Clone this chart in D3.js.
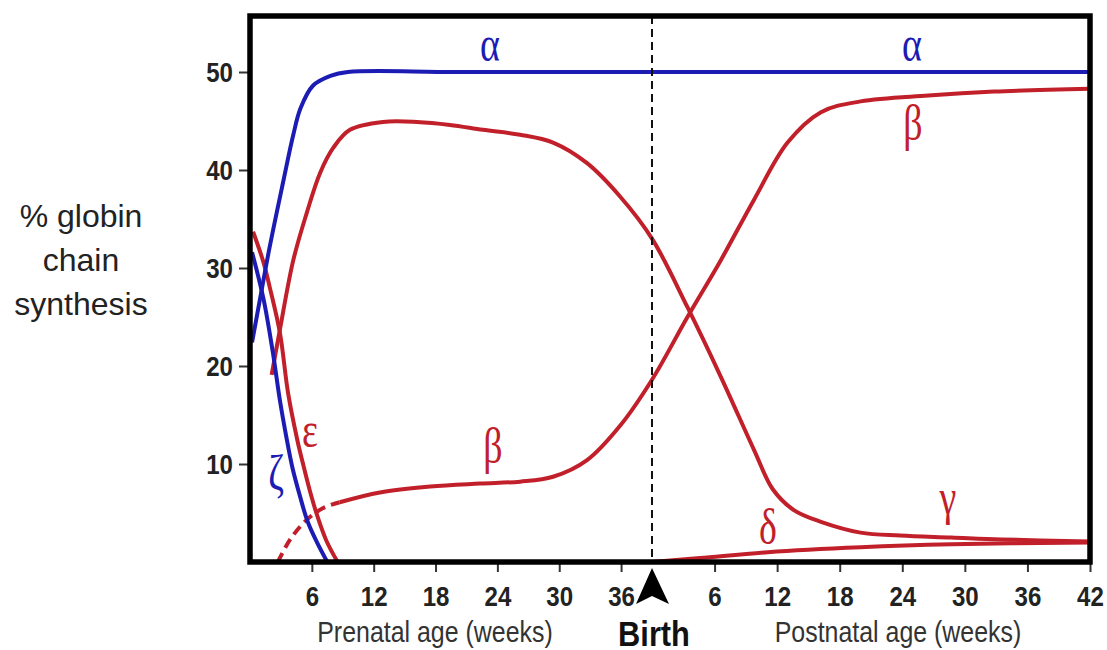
<!DOCTYPE html>
<html>
<head>
<meta charset="utf-8">
<script src="https://cdn.jsdelivr.net/npm/d3@7"></script>
<style>
  body { margin: 0; background: #fff; }
</style>
</head>
<body>
<svg id="chart" width="1107" height="650"></svg>
<script>
// age in weeks from conception; birth at week 39, postnatal weeks are added on top
var birthWeek = 39;
var endWeek = 81;

// alpha chain
var alphaAge = [0.2, 1.0, 1.9, 3.2, 4.2, 4.9, 6.1, 7.8, 9.5, 20, 39, 60, 81];
var alphaVal = [22.4, 27.0, 32.1, 38.7, 43.6, 46.3, 48.6, 49.6, 50, 50, 50, 50, 50];

// zeta chain
var zetaAge = [0.2, 1.3, 2.2, 2.9, 3.5, 4.1, 4.8, 5.6, 6.5, 7.5];
var zetaVal = [31.6, 26.9, 21.5, 16.5, 12.9, 9.7, 6.9, 4.1, 2.0, 0];

// epsilon chain
var epsAge = [0.3, 1.3, 1.9, 2.9, 3.7, 4.6, 5.1, 5.8, 6.5, 7.4, 8.5];
var epsVal = [33.7, 30.6, 28.1, 23.4, 17.2, 12.4, 10.2, 7.3, 4.8, 2.2, 0];

// gamma chain
var gammaAge = [2.1, 2.9, 4.2, 5.5, 6.8, 8.1, 9.7, 12.9, 16.2, 19.4, 22.6, 26.2, 29.4, 32.7,
                35.9, 39, 42.4, 45.6, 48.8, 50.6, 52.6, 55.2, 59.0, 62.8, 67.7, 72.5, 81];
var gammaVal = [19.1, 23.7, 30.8, 35.6, 39.7, 42.3, 44.1, 44.9, 44.9, 44.6, 44.1, 43.6, 42.8, 40.7,
                37.3, 33.0, 26.0, 18.9, 11.4, 7.4, 5.3, 4.1, 3.0, 2.7, 2.5, 2.3, 2.1];

// beta chain, early dashed part then solid
var betaEarlyAge = [2.7, 3.9, 5.5, 7.1, 8.7];
var betaEarlyVal = [0, 2.3, 4.3, 5.5, 6.1];
var betaAge = [8.7, 12.6, 17.5, 22.3, 26.2, 29.4, 32.7, 35.9, 39, 42.4, 45.6, 48.8, 52.0,
               55.2, 59.0, 65.5, 71.8, 81];
var betaVal = [6.1, 7.1, 7.7, 8.0, 8.2, 8.7, 10.4, 13.9, 18.6, 25.0, 30.8, 37.0, 42.8,
               45.9, 47.0, 47.6, 48.0, 48.3];

// delta chain
var deltaAge = [39, 43.6, 50.1, 59.0, 67.7, 81];
var deltaVal = [0, 0.4, 1.0, 1.5, 1.8, 2.0];

// ticks
var yTicks = [10, 20, 30, 40, 50];
var preTicks = [6, 12, 18, 24, 30, 36];
var postTicks = [6, 12, 18, 24, 30, 36, 42];

var blue = "#1c1cb4", red = "#c1202b";

var svg = d3.select("#chart");
var pLeft = 250, pRight = 1090, pTop = 16, pBottom = 562;

// x runs prenatal then postnatal with slightly different spacing
var x = d3.scaleLinear()
    .domain([0, birthWeek, endWeek])
    .range([pLeft, 652, pRight]);
var y = d3.scaleLinear().domain([0, 50]).range([pBottom, 72]);

var zip = function(a, b) { return a.map(function(d, i) { return [d, b[i]]; }); };

svg.append("clipPath").attr("id", "plot")
  .append("rect")
    .attr("x", pLeft).attr("y", pTop)
    .attr("width", pRight - pLeft).attr("height", pBottom - pTop);

var line = d3.line()
    .x(function(d) { return x(d[0]); })
    .y(function(d) { return y(d[1]); })
    .curve(d3.curveCatmullRom.alpha(0.5));

var series = [
  {data: zip(betaEarlyAge, betaEarlyVal), color: red, dash: "10,6"},
  {data: zip(betaAge, betaVal), color: red},
  {data: zip(deltaAge, deltaVal), color: red},
  {data: zip(gammaAge, gammaVal), color: red},
  {data: zip(epsAge, epsVal), color: red},
  {data: zip(zetaAge, zetaVal), color: blue},
  {data: zip(alphaAge, alphaVal), color: blue}
];

var plot = svg.append("g").attr("clip-path", "url(#plot)");

plot.selectAll("path.curve")
  .data(series)
  .enter().append("path")
    .attr("class", "curve")
    .attr("d", function(d) { return line(d.data); })
    .attr("fill", "none")
    .attr("stroke", function(d) { return d.color; })
    .attr("stroke-width", 4)
    .attr("stroke-dasharray", function(d) { return d.dash || null; });

// birth line
svg.append("line")
    .attr("x1", x(birthWeek)).attr("x2", x(birthWeek))
    .attr("y1", pTop).attr("y2", pBottom)
    .attr("stroke", "#111")
    .attr("stroke-width", 2)
    .attr("stroke-dasharray", "8,5");

// axes
var xAxis = svg.append("g")
    .attr("transform", "translate(0," + pBottom + ")")
    .call(d3.axisBottom(x)
      .tickValues(preTicks.concat(postTicks.map(function(d) { return d + birthWeek; })))
      .tickFormat(function(d) { return d > birthWeek ? d - birthWeek : d; })
      .tickSize(10)
      .tickPadding(14));

var yAxis = svg.append("g")
    .attr("transform", "translate(" + pLeft + ",0)")
    .call(d3.axisLeft(y).tickValues(yTicks).tickSize(11).tickPadding(5));

// narrow the tick digits a little, the fonts here have no narrow cut
var squeeze = 0.86;
[xAxis, yAxis].forEach(function(g) {
  g.select(".domain").remove();
  g.selectAll(".tick line").attr("stroke", "#333").attr("stroke-width", 2);
  g.selectAll(".tick text")
    .attr("fill", "#222")
    .style("font-family", "'Liberation Sans', Arial, sans-serif")
    .style("font-weight", "bold")
    .style("font-size", "28px");
});
xAxis.selectAll(".tick text").attr("transform", "scale(" + squeeze + ",1)");
yAxis.selectAll(".tick text")
    .attr("dy", "0.35em")
    .attr("x", -17 / squeeze)
    .attr("transform", "scale(" + squeeze + ",1)");

// frame
svg.append("rect")
    .attr("x", pLeft).attr("y", pTop)
    .attr("width", pRight - pLeft).attr("height", pBottom - pTop)
    .attr("fill", "none")
    .attr("stroke", "#000")
    .attr("stroke-width", 5.5);

// birth arrow
var bx = x(birthWeek);
svg.append("path")
    .attr("d", "M" + bx + ",568 L" + (bx + 17) + ",604 L" + bx + ",596 L" + (bx - 16) + ",604 Z")
    .attr("fill", "#000");

// x labels
var axisLabels = [
  {t: "Prenatal age (weeks)", x: 435, y: 642, size: 29, weight: "normal", sx: 0.86, c: "#333"},
  {t: "Postnatal age (weeks)", x: 898, y: 642, size: 29, weight: "normal", sx: 0.86, c: "#333"},
  {t: "Birth", x: bx + 2, y: 646, size: 35, weight: "bold", sx: 0.88, c: "#111"}
];
svg.selectAll("text.xlabel")
  .data(axisLabels)
  .enter().append("text")
    .attr("class", "xlabel")
    .attr("transform", function(d) { return "translate(" + d.x + "," + d.y + ") scale(" + d.sx + ",1)"; })
    .attr("text-anchor", "middle")
    .attr("fill", function(d) { return d.c; })
    .style("font-family", "'Liberation Sans', Arial, sans-serif")
    .style("font-weight", function(d) { return d.weight; })
    .style("font-size", function(d) { return d.size + "px"; })
    .text(function(d) { return d.t; });

// y label
var yLines = ["% globin", "chain", "synthesis"];
svg.append("text")
    .attr("fill", "#222")
    .attr("text-anchor", "middle")
    .style("font-family", "'Liberation Sans', Arial, sans-serif")
    .style("font-size", "32px")
  .selectAll("tspan")
  .data(yLines)
  .enter().append("tspan")
    .attr("x", 81)
    .attr("y", function(d, i) { return 227 + i * 44; })
    .text(function(d) { return d; });

// greek labels
var labels = [
  {t: "α", x: 490, y: 61, c: blue},
  {t: "α", x: 912, y: 61, c: blue},
  {t: "β", x: 913, y: 140, c: red},
  {t: "β", x: 493, y: 463, c: red},
  {t: "ε", x: 310, y: 447, c: red},
  {t: "ζ", x: 276, y: 490, c: blue},
  {t: "δ", x: 768, y: 544, c: red},
  {t: "γ", x: 948, y: 514, c: red}
];
svg.selectAll("text.greek")
  .data(labels)
  .enter().append("text")
    .attr("class", "greek")
    .attr("transform", function(d) { return "translate(" + d.x + "," + d.y + ") scale(1,1.35)"; })
    .attr("text-anchor", "middle")
    .attr("fill", function(d) { return d.c; })
    .style("font-family", "'Liberation Serif', 'Times New Roman', serif")
    .style("font-size", "38px")
    .text(function(d) { return d.t; });
</script>
</body>
</html>
